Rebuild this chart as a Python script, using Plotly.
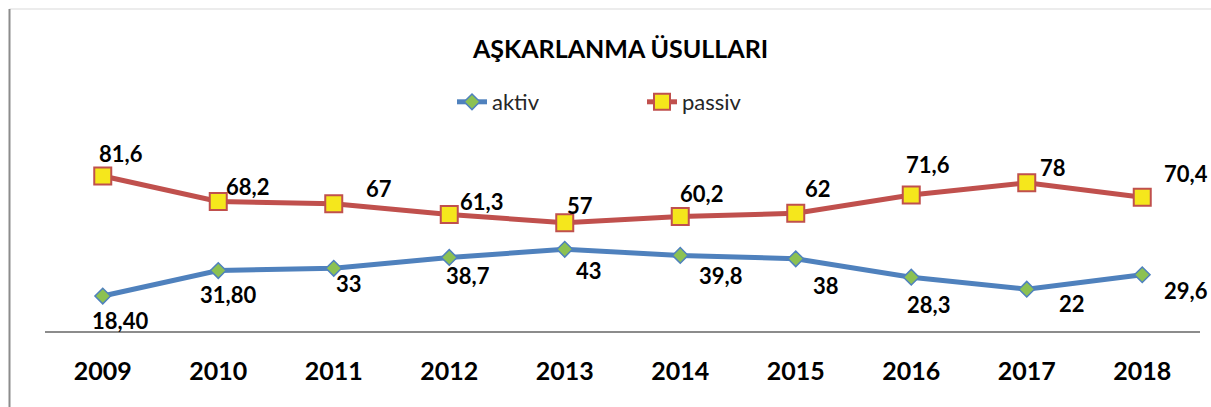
import plotly.graph_objects as go

years = ["2009", "2010", "2011", "2012", "2013", "2014", "2015", "2016", "2017", "2018"]
aktiv = [18.4, 31.8, 33, 38.7, 43, 39.8, 38, 28.3, 22, 29.6]
passiv = [81.6, 68.2, 67, 61.3, 57, 60.2, 62, 71.6, 78, 70.4]
aktiv_labels = ["18,40", "31,80", "33", "38,7", "43", "39,8", "38", "28,3", "22", "29,6"]
passiv_labels = ["81,6", "68,2", "67", "61,3", "57", "60,2", "62", "71,6", "78", "70,4"]

# label pixel offsets relative to the point (style)
aktiv_off = [(17, 24), (10, 24), (15, 15), (19, 18), (24, 21), (40, 20), (30, 27), (17, 27), (45, 14), (44, 16)]
passiv_off = [(18, -22), (29, -15), (45, -15), (32, -13), (15, -17), (21, -23), (22, -25), (17, -30), (26, -15), (44, -24)]

W, H = 1211, 407
ML, MR, MT, MB = 45, 11, 141, 76
FONT = "Lato, 'Open Sans', sans-serif"
pw, ph = W - ML - MR, H - MT - MB


def px_x(p):  # page pixel -> paper
    return (p - ML) / pw


def px_y(p):
    return (H - MB - p) / ph


fig = go.Figure()
fig.add_trace(go.Scatter(
    x=years, y=aktiv, name="aktiv", mode="lines+markers",
    line=dict(color="#4f81bd", width=5),
    marker=dict(symbol="diamond", size=12, color="#8cc152", line=dict(color="#4f81bd", width=1.5)),
    cliponaxis=False,
))
fig.add_trace(go.Scatter(
    x=years, y=passiv, name="passiv", mode="lines+markers",
    line=dict(color="#c0504d", width=5),
    marker=dict(symbol="square", size=17, color="#f5e71c", line=dict(color="#c0504d", width=2)),
    cliponaxis=False,
))

annotations = []
for vals, labs, offs in ((aktiv, aktiv_labels, aktiv_off), (passiv, passiv_labels, passiv_off)):
    for i, (v, lab, (dx, dy)) in enumerate(zip(vals, labs, offs)):
        annotations.append(dict(
            x=i, y=v, xref="x", yref="y", text="<b>" + lab + "</b>", showarrow=False,
            xshift=dx, yshift=-dy, font=dict(family=FONT, size=22, color="#000000"),
        ))

annotations.append(dict(
    x=px_x(620), y=px_y(48), xref="paper", yref="paper", text="<b>AŞKARLANMA ÜSULLARI</b>",
    showarrow=False, font=dict(family=FONT, size=25, color="#000000"),
    xanchor="center", yanchor="middle",
))

shapes = [
    dict(type="line", xref="paper", yref="paper", x0=px_x(9.5), x1=px_x(W), y0=px_y(9), y1=px_y(9),
         line=dict(color="#d9d9d9", width=1)),
    dict(type="line", xref="paper", yref="paper", x0=px_x(9.5), x1=px_x(9.5), y0=px_y(9), y1=px_y(H),
         line=dict(color="#8c8c8c", width=2)),
]

fig.update_layout(
    width=W, height=H,
    margin=dict(l=ML, r=MR, t=MT, b=MB),
    paper_bgcolor="white", plot_bgcolor="white",
    showlegend=True,
    legend=dict(orientation="h", xref="container", yref="container",
                x=452 / W, y=1 - 102 / H, xanchor="left", yanchor="middle",
                font=dict(family=FONT, size=22, color="#262626"),
                entrywidth=145, bgcolor="rgba(0,0,0,0)"),
    annotations=annotations,
    shapes=shapes,
    xaxis=dict(type="category", range=[-0.5, 9.5], showgrid=False, zeroline=False,
               showline=True, linecolor="#8c8c8c", linewidth=2, ticks="",
               tickfont=dict(family=FONT, size=25, color="#000000", weight="bold"),
               ticklabelstandoff=17),
    yaxis=dict(range=[0, 100], visible=False, showgrid=False, zeroline=False),
)

fig.write_html(
    "out.html",
    config={"displayModeBar": False},
    post_script="document.body.style.margin='0';document.body.style.overflow='hidden';",
)
